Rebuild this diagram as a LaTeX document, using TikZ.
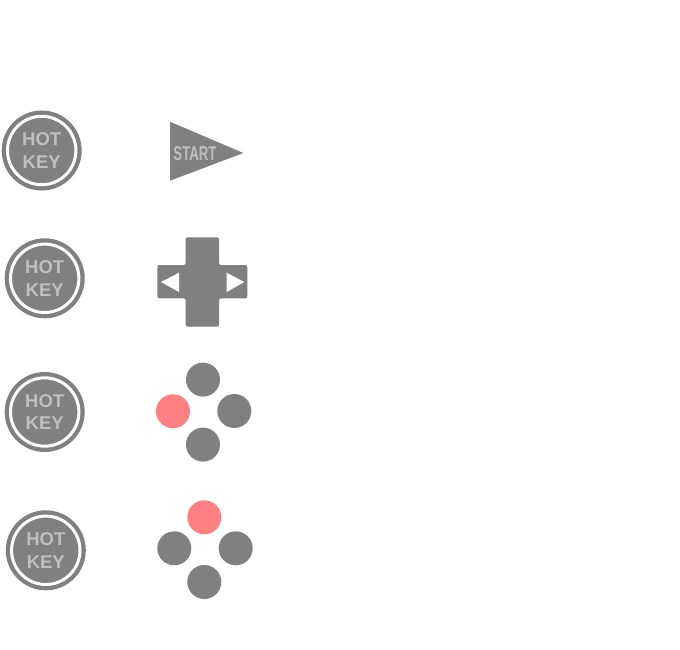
\documentclass[tikz,border=0pt]{standalone}
\usepackage{fontspec}
\setmainfont{Liberation Sans}
\usepackage{tikz}
\usetikzlibrary{positioning}
\definecolor{padgray}{HTML}{808080}
\definecolor{padlabel}{HTML}{BFBFBF}
\definecolor{padred}{HTML}{FF8080}
\tikzset{
  hotkey/.style={circle,inner sep=0pt,outer sep=0pt,minimum size=68.4pt,fill=padgray,
    draw=white,line width=3pt,preaction={draw=padgray,line width=11.6pt},
    align=center,text=padlabel,font=\bfseries\fontsize{18.5}{22.5}\selectfont},
  padbtn/.style={circle,inner sep=0pt,outer sep=0pt,minimum size=34pt,fill=padgray},
  padbtnon/.style={padbtn,fill=padred}
}
\begin{document}
\begin{tikzpicture}[x=1pt,y=-1pt,on grid]
   \useasboundingbox (0,0) rectangle (680,650);
   % hot keys
   \node[hotkey] (hot_0) at (41.7,150.5) {HOT\\KEY};
   \node[hotkey] (hot_1) at (44.7,278.3) {HOT\\KEY};
   \node[hotkey] (hot_2) at (44.7,412) {HOT\\KEY};
   \node[hotkey] (hot_3) at (45.8,550.3) {HOT\\KEY};
   % start
   \fill[padgray] (170,121.7) -- (243.3,153) -- (170,180.7) -- cycle;
   \node[text=padlabel,font=\bfseries\fontsize{20}{20}\selectfont,xscale=0.66,inner sep=0pt] (start) at (195,153.7) {START};
   % cross
   \fill[padgray,rounded corners=2pt] (185.7,237.3) -- (219,237.3) -- (219,265) -- (247.3,265)
     -- (247.3,298.3) -- (219,298.3) -- (219,326.7) -- (185.7,326.7) -- (185.7,298.3)
     -- (157.3,298.3) -- (157.3,265) -- (185.7,265) -- cycle;
   \fill[white] (179,272.7) -- (179,292) -- (161,282) -- cycle;
   \fill[white] (226.7,272.7) -- (226.7,292) -- (244.3,282) -- cycle;
   % left button on
   \node[padbtn] (a_top) at (203,379.6) {};
   \node[padbtnon] (a_left) [below left=31.7pt and 30pt of a_top] {};
   \node[padbtn] (a_right) [below right=31.4pt and 31.3pt of a_top] {};
   \node[padbtn] (a_bot) [below=65pt of a_top] {};
   % top button on
   \node[padbtnon] (b_top) at (204.3,517.3) {};
   \node[padbtn] (b_left) [below left=31pt and 30pt of b_top] {};
   \node[padbtn] (b_right) [below right=31pt and 31.4pt of b_top] {};
   \node[padbtn] (b_bot) [below=64.7pt of b_top] {};
\end{tikzpicture}
\end{document}
